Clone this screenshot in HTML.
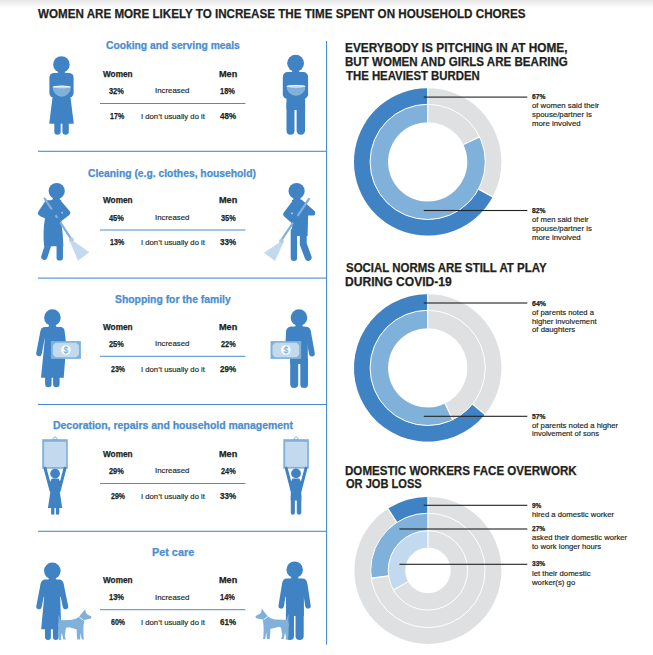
<!DOCTYPE html>
<html><head><meta charset="utf-8"><style>
html,body{margin:0;padding:0;background:#fff;}
body{width:653px;height:655px;position:relative;overflow:hidden;font-family:"Liberation Sans",sans-serif;}
.t{position:absolute;white-space:nowrap;transform-origin:0 0;}
.top{position:absolute;left:0;top:0;width:653px;height:8px;background:linear-gradient(#e6e6e6,#ffffff);}
svg{position:absolute;left:0;top:0;}
</style></head><body>
<div class="top"></div>
<svg width="653" height="655" viewBox="0 0 653 655">
<rect x="326" y="41" width="1.1" height="603.6" fill="#4a8ecf"/>
<rect x="38" y="150.75" width="288.5" height="1.1" fill="#4a8ecf"/>
<rect x="38" y="277.55" width="288.5" height="1.1" fill="#4a8ecf"/>
<rect x="38" y="403.95" width="288.5" height="1.1" fill="#4a8ecf"/>
<rect x="38" y="530.75" width="288.5" height="1.1" fill="#4a8ecf"/>
<rect x="100" y="103.00" width="145.5" height="1" fill="#4a8ecf"/>
<rect x="100" y="229.50" width="145.5" height="1" fill="#4a8ecf"/>
<rect x="100" y="355.80" width="145.5" height="1" fill="#4a8ecf"/>
<rect x="100" y="483.00" width="145.5" height="1" fill="#4a8ecf"/>
<rect x="100" y="609.20" width="145.5" height="1" fill="#4a8ecf"/>
<path d="M427.7 88.2 A73.7 73.7 0 1 0 427.7 235.60000000000002 A73.7 73.7 0 1 0 427.7 88.2 Z M427.7 104.30000000000001 A57.6 57.6 0 1 1 427.7 219.5 A57.6 57.6 0 1 1 427.7 104.30000000000001 Z" fill="#dfe0e2" fill-rule="evenodd"/>
<path d="M427.7 104.30000000000001 A57.6 57.6 0 1 0 427.7 219.5 A57.6 57.6 0 1 0 427.7 104.30000000000001 Z M427.7 122.2 A39.7 39.7 0 1 1 427.7 201.60000000000002 A39.7 39.7 0 1 1 427.7 122.2 Z" fill="#dfe0e2" fill-rule="evenodd"/>
<path d="M427.70 88.20 A73.7 73.7 0 1 0 492.28 197.41 L478.18 189.65 A57.6 57.6 0 1 1 427.70 104.30 Z" fill="#3f83c4"/>
<path d="M427.70 104.30 A57.6 57.6 0 1 0 479.82 137.38 L463.62 145.00 A39.7 39.7 0 1 1 427.70 122.20 Z" fill="#80b1da"/>
<line x1="478.52" y1="189.01" x2="493.17" y2="196.83" stroke="#fff" stroke-width="1.1"/>
<line x1="463.41" y1="144.55" x2="479.96" y2="136.50" stroke="#fff" stroke-width="1.1"/>
<circle cx="427.7" cy="161.9" r="57.6" fill="none" stroke="#fff" stroke-width="1"/>
<rect x="427.09999999999997" y="87.9" width="1.2" height="34.5" fill="#fff"/>
<path d="M427.7 294.2 A73.7 73.7 0 1 0 427.7 441.59999999999997 A73.7 73.7 0 1 0 427.7 294.2 Z M427.7 310.29999999999995 A57.6 57.6 0 1 1 427.7 425.5 A57.6 57.6 0 1 1 427.7 310.29999999999995 Z" fill="#dfe0e2" fill-rule="evenodd"/>
<path d="M427.7 310.29999999999995 A57.6 57.6 0 1 0 427.7 425.5 A57.6 57.6 0 1 0 427.7 310.29999999999995 Z M427.7 328.2 A39.7 39.7 0 1 1 427.7 407.59999999999997 A39.7 39.7 0 1 1 427.7 328.2 Z" fill="#dfe0e2" fill-rule="evenodd"/>
<path d="M427.70 294.20 A73.7 73.7 0 1 0 484.49 414.88 L472.08 404.62 A57.6 57.6 0 1 1 427.70 310.30 Z" fill="#3f83c4"/>
<path d="M427.70 310.30 A57.6 57.6 0 1 0 452.22 420.02 L444.60 403.82 A39.7 39.7 0 1 1 427.70 328.20 Z" fill="#80b1da"/>
<line x1="472.54" y1="404.06" x2="485.46" y2="414.47" stroke="#fff" stroke-width="1.1"/>
<line x1="445.05" y1="403.61" x2="453.10" y2="420.16" stroke="#fff" stroke-width="1.1"/>
<circle cx="427.7" cy="367.9" r="57.6" fill="none" stroke="#fff" stroke-width="1"/>
<rect x="427.09999999999997" y="293.9" width="1.2" height="34.5" fill="#fff"/>
<path d="M427.9 496.9 A73.5 73.5 0 1 0 427.9 643.9 A73.5 73.5 0 1 0 427.9 496.9 Z M427.9 547.6 A22.8 22.8 0 1 1 427.9 593.1999999999999 A22.8 22.8 0 1 1 427.9 547.6 Z" fill="#dfe0e2" fill-rule="evenodd"/>
<path d="M427.90 496.90 A73.5 73.5 0 0 0 388.52 508.34 L397.25 522.10 A57.2 57.2 0 0 1 427.90 513.20 Z" fill="#3f83c4"/>
<path d="M427.90 513.20 A57.2 57.2 0 0 0 371.15 577.57 L388.51 575.38 A39.7 39.7 0 0 1 427.90 530.70 Z" fill="#80b1da"/>
<path d="M427.90 530.70 A39.7 39.7 0 0 0 393.11 589.53 L407.92 581.38 A22.8 22.8 0 0 1 427.90 547.60 Z" fill="#c3d9ee"/>
<line x1="396.65" y1="522.49" x2="387.47" y2="508.42" stroke="#fff" stroke-width="1.1"/>
<line x1="388.58" y1="575.87" x2="370.75" y2="578.35" stroke="#fff" stroke-width="1.1"/>
<line x1="408.06" y1="581.63" x2="392.92" y2="590.21" stroke="#fff" stroke-width="1.1"/>
<circle cx="427.9" cy="570.4" r="57.2" fill="none" stroke="#fff" stroke-width="1"/>
<circle cx="427.9" cy="570.4" r="39.7" fill="none" stroke="#fff" stroke-width="1"/>
<rect x="427.29999999999995" y="496.4" width="1.2" height="51" fill="#fff"/>
<rect x="423.8" y="96.55" width="103.50" height="1.1" fill="#222222"/>
<rect x="423.8" y="209.95" width="103.50" height="1.1" fill="#222222"/>
<rect x="423.8" y="302.45" width="103.50" height="1.1" fill="#222222"/>
<rect x="423.8" y="415.75" width="103.50" height="1.1" fill="#222222"/>
<rect x="423.8" y="504.75" width="103.50" height="1.1" fill="#222222"/>
<rect x="399.4" y="528.45" width="127.90" height="1.1" fill="#222222"/>
<rect x="399.4" y="563.75" width="127.90" height="1.1" fill="#222222"/>
<circle cx="61.4" cy="64.4" r="8.25" fill="#3f83c4"/>
<path d="M56.65,74.00 L56.65,73.00 Q58.25,73.00 58.25,71.40 L58.25,69 L64.55,69 L64.55,71.40 Q64.55,73.00 66.15,73.00 L66.15,74.00 Z" fill="#3f83c4"/>
<rect x="49.4" y="72.9" width="24.20" height="24.70" rx="4.6" fill="#3f83c4"/>
<polygon points="52.8,95 70.2,95 73.8,123.8 49.2,123.8" fill="#3f83c4"/>
<rect x="54.3" y="116" width="6.40" height="18.80" rx="3.2" fill="#3f83c4"/>
<rect x="62.4" y="116" width="6.40" height="18.80" rx="3.2" fill="#3f83c4"/>
<path d="M52.6 86.80000000000001 A9.150000000000002 9.999999999999991 0 0 0 70.9 86.80000000000001 Z" fill="#80b1da"/>
<ellipse cx="61.75" cy="86.80000000000001" rx="9.150000000000002" ry="1.3" fill="#fff"/>
<ellipse cx="61.75" cy="87.4" rx="7.5500000000000025" ry="0.9" fill="#c3d9ee"/>
<circle cx="295.6" cy="63.2" r="8.4" fill="#3f83c4"/>
<path d="M290.85,73.00 L290.85,72.00 Q292.45,72.00 292.45,70.40 L292.45,68 L298.75,68 L298.75,70.40 Q298.75,72.00 300.35,72.00 L300.35,73.00 Z" fill="#3f83c4"/>
<rect x="282.8" y="72.0" width="25.30" height="27.00" rx="4.8" fill="#3f83c4"/>
<rect x="286.5" y="94" width="18.60" height="16.00" rx="1" fill="#3f83c4"/>
<rect x="286.5" y="100" width="8.00" height="34.80" rx="4.0" fill="#3f83c4"/>
<rect x="296.6" y="100" width="8.50" height="34.80" rx="4.2" fill="#3f83c4"/>
<path d="M286.5 86.2 A9.5 9.700000000000008 0 0 0 305.5 86.2 Z" fill="#80b1da"/>
<ellipse cx="296.0" cy="86.2" rx="9.5" ry="1.3" fill="#fff"/>
<ellipse cx="296.0" cy="86.8" rx="7.9" ry="0.9" fill="#c3d9ee"/>
<circle cx="56.7" cy="191.0" r="8.1" fill="#3f83c4"/>
<path d="M51.20,201.00 L51.20,200.00 Q52.80,200.00 52.80,198.40 L52.80,196 L59.60,196 L59.60,198.40 Q59.60,200.00 61.20,200.00 L61.20,201.00 Z" fill="#3f83c4"/>
<path d="M46.5,200.3 L59.2,200.3 Q60.3,200.3 61.2,201.2 L69.8,211.2 Q71.2,213.3 69.3,215 L61.2,221.3 Q63.1,234 63.4,246.3 L44.1,246.3 Q42.6,232 45.0,218.3 L40.2,216.2 Q36.8,214.3 38.4,211.6 L45.4,201.0 Q45.9,200.3 46.5,200.3 Z" fill="#3f83c4"/>
<polyline points="48.3,244.5 44.3,256.9" fill="none" stroke="#3f83c4" stroke-width="6.2" stroke-linecap="round" stroke-linejoin="round"/>
<polyline points="59.75,245.0 59.75,257.4" fill="none" stroke="#3f83c4" stroke-width="6.4" stroke-linecap="round" stroke-linejoin="round"/>
<polyline points="44.7,198.6 70.8,238.3" fill="none" stroke="#80b1da" stroke-width="2.2" stroke-linecap="round" stroke-linejoin="round"/>
<polyline points="51.9,209.4 55.2,215.4" fill="none" stroke="#3f83c4" stroke-width="3.6" stroke-linecap="butt" stroke-linejoin="round"/>
<polyline points="56.8,218.2 59.9,222.4" fill="none" stroke="#3f83c4" stroke-width="3.0" stroke-linecap="butt" stroke-linejoin="round"/>
<polygon points="61.3,212.4 62.4,211.6 62.6,214.2" fill="#fff"/>
<rect x="69.2" y="237.6" width="4.40" height="4.20" rx="1.4" fill="#aecbe6"/>
<polygon points="69.6,241.0 73.4,241.0 89.3,252.2 78.1,260.8" fill="#c3d9ee"/>
<circle cx="296.6" cy="191.0" r="8.1" fill="#3f83c4"/>
<path d="M292.00,201.00 L292.00,200.00 Q293.60,200.00 293.60,198.40 L293.60,196 L300.40,196 L300.40,198.40 Q300.40,200.00 302.00,200.00 L302.00,201.00 Z" fill="#3f83c4"/>
<path d="M294.0,200.0 L301.4,200.0 Q302.4,200.0 303.2,200.9 L314.5,211.0 Q316.3,213.3 314.2,215.4 L308.1,215.4 L307.6,236 L291.8,236 L292.2,223.6 L284.2,216.4 Q282.2,214.3 284.0,212.2 L292.6,200.8 Q293.2,200.0 294.0,200.0 Z" fill="#3f83c4"/>
<rect x="290.7" y="228" width="6.40" height="33.00" rx="3.2" fill="#3f83c4"/>
<polyline points="303.25,230 303.25,244 308.2,257.4" fill="none" stroke="#3f83c4" stroke-width="6.9" stroke-linecap="round" stroke-linejoin="round"/>
<polyline points="309.0,198.9 281.4,240.2" fill="none" stroke="#80b1da" stroke-width="2.2" stroke-linecap="round" stroke-linejoin="round"/>
<polyline points="297.6,216.0 293.2,222.8" fill="none" stroke="#3f83c4" stroke-width="3.6" stroke-linecap="butt" stroke-linejoin="round"/>
<polygon points="291.0,213.4 292.4,212.0 292.4,214.6" fill="#fff"/>
<rect x="279.2" y="239.2" width="4.40" height="4.20" rx="1.4" fill="#aecbe6"/>
<polygon points="279.4,242.6 283.4,242.6 275.0,261.0 264.0,252.8" fill="#c3d9ee"/>
<circle cx="52.4" cy="317.6" r="8.3" fill="#3f83c4"/>
<path d="M47.40,328.00 L47.40,327.00 Q49.00,327.00 49.00,325.40 L49.00,322 L55.80,322 L55.80,325.40 Q55.80,327.00 57.40,327.00 L57.40,328.00 Z" fill="#3f83c4"/>
<path d="M45.0,326.9 L60.3,326.9 Q64.0,326.9 64.5,330.5 L66.3,345 L63.7,377.7 L41.0,377.7 L44.6,341.5 L44.3,330 Z" fill="#3f83c4"/>
<rect x="40.5" y="326.9" width="15.50" height="11.10" rx="4.6" fill="#3f83c4"/>
<polyline points="42.9,333 39.0,353.4" fill="none" stroke="#3f83c4" stroke-width="5.6" stroke-linecap="round" stroke-linejoin="round"/>
<rect x="45.1" y="372" width="6.50" height="15.30" rx="3.2" fill="#3f83c4"/>
<rect x="53.1" y="372" width="6.50" height="15.30" rx="3.2" fill="#3f83c4"/>
<rect x="50.9" y="341.1" width="30.00" height="17.80" fill="#80b1da"/>
<polygon points="55.5,342.70000000000005 76.30000000000001,342.70000000000005 78.9,345.30000000000007 78.9,354.69999999999993 76.30000000000001,357.29999999999995 55.5,357.29999999999995 52.9,354.69999999999993 52.9,345.30000000000007" fill="#c3d9ee"/>
<circle cx="65.90" cy="350.00" r="4.8" fill="#fff"/>
<text x="65.90" y="353.00" font-family="Liberation Sans" font-size="8.6" text-anchor="middle" fill="#80b1da" stroke="#80b1da" stroke-width="0.25">$</text>
<circle cx="299.0" cy="317.6" r="8.3" fill="#3f83c4"/>
<path d="M294.00,328.00 L294.00,327.00 Q295.60,327.00 295.60,325.40 L295.60,322 L302.40,322 L302.40,325.40 Q302.40,327.00 304.00,327.00 L304.00,328.00 Z" fill="#3f83c4"/>
<path d="M290.2,326.7 L304.8,326.7 L307.8,330 L307.8,364 L290.2,364 Z" fill="#3f83c4"/>
<rect x="286.2" y="326.7" width="24.40" height="11.30" rx="4.6" fill="#3f83c4"/>
<polyline points="289.0,332 288.2,345.0" fill="none" stroke="#3f83c4" stroke-width="5.8" stroke-linecap="round" stroke-linejoin="round"/>
<polyline points="308.0,332 311.9,353.6" fill="none" stroke="#3f83c4" stroke-width="5.8" stroke-linecap="round" stroke-linejoin="round"/>
<rect x="290.2" y="356" width="8.00" height="32.00" rx="4.0" fill="#3f83c4"/>
<rect x="300.3" y="356" width="7.70" height="32.00" rx="3.85" fill="#3f83c4"/>
<rect x="270.5" y="341.1" width="30.70" height="17.80" fill="#80b1da"/>
<polygon points="275.1,342.70000000000005 296.59999999999997,342.70000000000005 299.2,345.30000000000007 299.2,354.69999999999993 296.59999999999997,357.29999999999995 275.1,357.29999999999995 272.5,354.69999999999993 272.5,345.30000000000007" fill="#c3d9ee"/>
<circle cx="285.85" cy="350.00" r="4.8" fill="#fff"/>
<text x="285.85" y="353.00" font-family="Liberation Sans" font-size="8.6" text-anchor="middle" fill="#80b1da" stroke="#80b1da" stroke-width="0.25">$</text>
<polygon points="52.40,439.5 55.00,436.50 57.60,439.5" fill="#fff" stroke="#80b1da" stroke-width="1"/>
<rect x="42.2" y="439.2" width="25.60" height="29.60" fill="#80b1da"/>
<rect x="44.10" y="441.80" width="22.00" height="25.30" fill="#c3d9ee"/>
<polyline points="45.0,468.2 51.0,490.5" fill="none" stroke="#3f83c4" stroke-width="3.0" stroke-linecap="round" stroke-linejoin="round"/>
<polyline points="65.0,468.2 59.2,490.5" fill="none" stroke="#3f83c4" stroke-width="3.0" stroke-linecap="round" stroke-linejoin="round"/>
<circle cx="55.1" cy="473.6" r="4.9" fill="#3f83c4"/>
<polygon points="51.8,478.6 58.6,478.6 61.2,484 59.9,492.5 62.2,508.0 47.9,508.0 50.3,492.5 49.0,484" fill="#3f83c4"/>
<rect x="51.1" y="504" width="3.30" height="10.80" rx="1.65" fill="#3f83c4"/>
<rect x="55.9" y="504" width="3.40" height="10.80" rx="1.65" fill="#3f83c4"/>
<polygon points="293.50,439.5 296.10,436.50 298.70,439.5" fill="#fff" stroke="#80b1da" stroke-width="1"/>
<rect x="283.3" y="439.2" width="25.60" height="29.40" fill="#80b1da"/>
<rect x="285.20" y="441.80" width="22.00" height="25.10" fill="#c3d9ee"/>
<polyline points="286.2,468.2 291.9,490.0" fill="none" stroke="#3f83c4" stroke-width="3.0" stroke-linecap="round" stroke-linejoin="round"/>
<polyline points="306.0,468.2 300.3,490.0" fill="none" stroke="#3f83c4" stroke-width="3.0" stroke-linecap="round" stroke-linejoin="round"/>
<circle cx="296.0" cy="473.4" r="4.9" fill="#3f83c4"/>
<polygon points="292.6,478.4 299.4,478.4 302.2,484 301.3,492 301.3,500.5 290.8,500.5 290.8,492 289.8,484" fill="#3f83c4"/>
<rect x="290.8" y="494" width="4.10" height="20.70" rx="2.05" fill="#3f83c4"/>
<rect x="296.8" y="494" width="4.50" height="20.70" rx="2.1" fill="#3f83c4"/>
<circle cx="52.3" cy="570.8" r="8.3" fill="#3f83c4"/>
<path d="M47.30,581.00 L47.30,580.00 Q48.90,580.00 48.90,578.40 L48.90,575 L55.70,575 L55.70,578.40 Q55.70,580.00 57.30,580.00 L57.30,581.00 Z" fill="#3f83c4"/>
<rect x="40.6" y="579.6" width="23.10" height="17.40" rx="4.6" fill="#3f83c4"/>
<polyline points="43.0,586 39.0,606.5" fill="none" stroke="#3f83c4" stroke-width="5.5" stroke-linecap="round" stroke-linejoin="round"/>
<polyline points="61.3,586 65.5,606.5" fill="none" stroke="#3f83c4" stroke-width="5.5" stroke-linecap="round" stroke-linejoin="round"/>
<polygon points="44.4,594 60.1,594 61.2,629.2 41.2,629.2" fill="#3f83c4"/>
<rect x="45.0" y="624" width="5.90" height="15.90" rx="2.95" fill="#3f83c4"/>
<rect x="52.9" y="624" width="5.70" height="15.90" rx="2.85" fill="#3f83c4"/>
<polygon points="58.3,614.7 59.3,616.5 60.1,619.4 60.8,620.1 64,620.2 72,619.8 76.4,618.6 79.0,616.8 81.6,613.6 85.1,609.2 86.0,613.0 87.0,614.2 90.9,616.2 91.5,617.1 91.0,618.5 88.6,619.1 86.2,619.4 84.5,620.0 83.8,622.9 83.4,627.5 83.4,632.0 83.7,638.6 84.4,639.5 82.0,639.5 81.4,637.5 80.8,632.5 80.1,638.8 80.6,639.5 77.2,639.5 76.8,635.0 76.7,629.5 73.5,628.6 70,627.6 67.6,627.2 65.9,628.1 65.3,632.5 64.7,636.3 65.9,639.4 63.2,639.4 62.4,635.2 61.8,632.8 60.9,637.6 61.4,639.9 58.9,639.9 58.4,634.0 58.4,629.0 58.0,625.2 58.6,621.0 58.4,617.0" fill="#80b1da"/>
<line x1="79.20" y1="617.00" x2="83.60" y2="620.30" stroke="#fff" stroke-width="0.9"/>
<circle cx="294.7" cy="569.7" r="8.25" fill="#3f83c4"/>
<path d="M289.70,580.00 L289.70,579.00 Q291.30,579.00 291.30,577.40 L291.30,574 L298.10,574 L298.10,577.40 Q298.10,579.00 299.70,579.00 L299.70,580.00 Z" fill="#3f83c4"/>
<rect x="282.3" y="578.4" width="24.80" height="18.60" rx="4.6" fill="#3f83c4"/>
<polyline points="284.6,585 281.25,605.9" fill="none" stroke="#3f83c4" stroke-width="5.5" stroke-linecap="round" stroke-linejoin="round"/>
<polyline points="304.8,585 307.95,605.9" fill="none" stroke="#3f83c4" stroke-width="5.5" stroke-linecap="round" stroke-linejoin="round"/>
<rect x="286.0" y="594" width="17.90" height="22.00" rx="0.5" fill="#3f83c4"/>
<rect x="285.9" y="606" width="8.10" height="33.90" rx="4.0" fill="#3f83c4"/>
<rect x="295.5" y="606" width="8.20" height="33.90" rx="4.0" fill="#3f83c4"/>
<polygon points="288.7,614.3000000000001 287.7,616.1 286.9,619.0 286.2,619.7 283.0,619.8000000000001 275.0,619.4 270.6,618.2 268.0,616.4 265.4,613.2 261.9,608.8000000000001 261.0,612.6 260.0,613.8000000000001 256.1,615.8000000000001 255.5,616.7 256.0,618.1 258.4,618.7 260.8,619.0 262.5,619.6 263.2,622.5 263.6,627.1 263.6,631.6 263.3,638.2 262.6,639.1 265.0,639.1 265.6,637.1 266.2,632.1 266.9,638.4 266.4,639.1 269.8,639.1 270.2,634.6 270.3,629.1 273.5,628.2 277.0,627.2 279.4,626.8000000000001 281.1,627.7 281.7,632.1 282.3,635.9 281.1,639.0 283.8,639.0 284.6,634.8000000000001 285.2,632.4 286.1,637.2 285.6,639.5 288.1,639.5 288.6,633.6 288.6,628.6 289.0,624.8000000000001 288.4,620.6 288.6,616.6" fill="#80b1da"/>
<line x1="267.80" y1="616.60" x2="263.40" y2="619.90" stroke="#fff" stroke-width="0.9"/>
</svg>
<div class="t" style="left:38.40px;top:8.29px;font-size:12.3px;line-height:12.3px;font-weight:700;color:#231f20;transform:scaleX(0.9450);-webkit-text-stroke:0.25px #231f20">WOMEN ARE MORE LIKELY TO INCREASE THE TIME SPENT ON HOUSEHOLD CHORES</div>
<div class="t" style="left:345.46px;top:41.94px;font-size:12.0px;line-height:12.0px;font-weight:700;color:#231f20;transform:scaleX(0.9844);-webkit-text-stroke:0.25px #231f20">EVERYBODY IS PITCHING IN AT HOME,</div>
<div class="t" style="left:345.48px;top:55.64px;font-size:12.0px;line-height:12.0px;font-weight:700;color:#231f20;transform:scaleX(0.9643);-webkit-text-stroke:0.25px #231f20">BUT WOMEN AND GIRLS ARE BEARING</div>
<div class="t" style="left:345.96px;top:69.54px;font-size:12.0px;line-height:12.0px;font-weight:700;color:#231f20;transform:scaleX(0.9479);-webkit-text-stroke:0.25px #231f20">THE HEAVIEST BURDEN</div>
<div class="t" style="left:345.52px;top:262.04px;font-size:12.0px;line-height:12.0px;font-weight:700;color:#231f20;transform:scaleX(0.9548);-webkit-text-stroke:0.25px #231f20">SOCIAL NORMS ARE STILL AT PLAY</div>
<div class="t" style="left:345.24px;top:275.54px;font-size:12.0px;line-height:12.0px;font-weight:700;color:#231f20;transform:scaleX(1.0072);-webkit-text-stroke:0.25px #231f20">DURING COVID-19</div>
<div class="t" style="left:345.38px;top:464.54px;font-size:12.0px;line-height:12.0px;font-weight:700;color:#231f20;transform:scaleX(0.9663);-webkit-text-stroke:0.25px #231f20">DOMESTIC WORKERS FACE OVERWORK</div>
<div class="t" style="left:345.64px;top:478.34px;font-size:12.0px;line-height:12.0px;font-weight:700;color:#231f20;transform:scaleX(0.9235);-webkit-text-stroke:0.25px #231f20">OR JOB LOSS</div>
<div class="t" style="left:106.19px;top:41.14px;font-size:10.0px;line-height:10.0px;font-weight:700;color:#4a8ecf;transform:scaleX(1.0290);-webkit-text-stroke:0.25px #4a8ecf">Cooking and serving meals</div>
<div class="t" style="left:88.48px;top:168.74px;font-size:10.0px;line-height:10.0px;font-weight:700;color:#4a8ecf;transform:scaleX(1.0318);-webkit-text-stroke:0.25px #4a8ecf">Cleaning (e.g. clothes, household)</div>
<div class="t" style="left:115.04px;top:294.54px;font-size:10.0px;line-height:10.0px;font-weight:700;color:#4a8ecf;transform:scaleX(1.0364);-webkit-text-stroke:0.25px #4a8ecf">Shopping for the family</div>
<div class="t" style="left:52.62px;top:421.04px;font-size:10.0px;line-height:10.0px;font-weight:700;color:#4a8ecf;transform:scaleX(1.0457);-webkit-text-stroke:0.25px #4a8ecf">Decoration, repairs and household management</div>
<div class="t" style="left:151.69px;top:548.23px;font-size:10.0px;line-height:10.0px;font-weight:700;color:#4a8ecf;transform:scaleX(1.0834);-webkit-text-stroke:0.25px #4a8ecf">Pet care</div>
<div class="t" style="left:103.00px;top:69.80px;font-size:8.5px;line-height:8.5px;font-weight:700;color:#231f20;transform:scaleX(0.9667);-webkit-text-stroke:0.25px #231f20">Women</div>
<div class="t" style="left:219.16px;top:69.90px;font-size:8.5px;line-height:8.5px;font-weight:700;color:#231f20;transform:scaleX(1.0750);-webkit-text-stroke:0.25px #231f20">Men</div>
<div class="t" style="left:109.49px;top:87.18px;font-size:9.0px;line-height:9.0px;font-weight:700;color:#231f20;transform:scaleX(0.8229);-webkit-text-stroke:0.25px #231f20">32%</div>
<div class="t" style="left:154.95px;top:87.30px;font-size:7.8px;line-height:7.8px;font-weight:400;color:#231f20;transform:scaleX(1.0061);-webkit-text-stroke:0.15px #231f20">Increased</div>
<div class="t" style="left:220.49px;top:87.18px;font-size:9.0px;line-height:9.0px;font-weight:700;color:#231f20;transform:scaleX(0.8290);-webkit-text-stroke:0.25px #231f20">18%</div>
<div class="t" style="left:110.41px;top:111.98px;font-size:9.0px;line-height:9.0px;font-weight:700;color:#231f20;transform:scaleX(0.7884);-webkit-text-stroke:0.25px #231f20">17%</div>
<div class="t" style="left:140.56px;top:112.80px;font-size:7.8px;line-height:7.8px;font-weight:400;color:#231f20;transform:scaleX(0.9898);-webkit-text-stroke:0.15px #231f20">I don’t usually do it</div>
<div class="t" style="left:220.18px;top:111.98px;font-size:9.0px;line-height:9.0px;font-weight:700;color:#231f20;transform:scaleX(0.8914);-webkit-text-stroke:0.25px #231f20">48%</div>
<div class="t" style="left:103.00px;top:196.30px;font-size:8.5px;line-height:8.5px;font-weight:700;color:#231f20;transform:scaleX(0.9667);-webkit-text-stroke:0.25px #231f20">Women</div>
<div class="t" style="left:219.16px;top:196.40px;font-size:8.5px;line-height:8.5px;font-weight:700;color:#231f20;transform:scaleX(1.0750);-webkit-text-stroke:0.25px #231f20">Men</div>
<div class="t" style="left:109.49px;top:213.68px;font-size:9.0px;line-height:9.0px;font-weight:700;color:#231f20;transform:scaleX(0.8229);-webkit-text-stroke:0.25px #231f20">45%</div>
<div class="t" style="left:154.95px;top:213.80px;font-size:7.8px;line-height:7.8px;font-weight:400;color:#231f20;transform:scaleX(1.0061);-webkit-text-stroke:0.15px #231f20">Increased</div>
<div class="t" style="left:220.70px;top:213.68px;font-size:9.0px;line-height:9.0px;font-weight:700;color:#231f20;transform:scaleX(0.8171);-webkit-text-stroke:0.25px #231f20">35%</div>
<div class="t" style="left:110.41px;top:238.48px;font-size:9.0px;line-height:9.0px;font-weight:700;color:#231f20;transform:scaleX(0.7884);-webkit-text-stroke:0.25px #231f20">13%</div>
<div class="t" style="left:140.56px;top:239.30px;font-size:7.8px;line-height:7.8px;font-weight:400;color:#231f20;transform:scaleX(0.9898);-webkit-text-stroke:0.15px #231f20">I don’t usually do it</div>
<div class="t" style="left:220.18px;top:238.48px;font-size:9.0px;line-height:9.0px;font-weight:700;color:#231f20;transform:scaleX(0.8914);-webkit-text-stroke:0.25px #231f20">33%</div>
<div class="t" style="left:103.00px;top:322.60px;font-size:8.5px;line-height:8.5px;font-weight:700;color:#231f20;transform:scaleX(0.9667);-webkit-text-stroke:0.25px #231f20">Women</div>
<div class="t" style="left:219.16px;top:322.70px;font-size:8.5px;line-height:8.5px;font-weight:700;color:#231f20;transform:scaleX(1.0750);-webkit-text-stroke:0.25px #231f20">Men</div>
<div class="t" style="left:109.49px;top:339.98px;font-size:9.0px;line-height:9.0px;font-weight:700;color:#231f20;transform:scaleX(0.8229);-webkit-text-stroke:0.25px #231f20">25%</div>
<div class="t" style="left:154.95px;top:340.10px;font-size:7.8px;line-height:7.8px;font-weight:400;color:#231f20;transform:scaleX(1.0061);-webkit-text-stroke:0.15px #231f20">Increased</div>
<div class="t" style="left:220.70px;top:339.98px;font-size:9.0px;line-height:9.0px;font-weight:700;color:#231f20;transform:scaleX(0.8171);-webkit-text-stroke:0.25px #231f20">22%</div>
<div class="t" style="left:110.61px;top:364.78px;font-size:9.0px;line-height:9.0px;font-weight:700;color:#231f20;transform:scaleX(0.7771);-webkit-text-stroke:0.25px #231f20">23%</div>
<div class="t" style="left:140.56px;top:365.60px;font-size:7.8px;line-height:7.8px;font-weight:400;color:#231f20;transform:scaleX(0.9898);-webkit-text-stroke:0.15px #231f20">I don’t usually do it</div>
<div class="t" style="left:220.18px;top:364.78px;font-size:9.0px;line-height:9.0px;font-weight:700;color:#231f20;transform:scaleX(0.8914);-webkit-text-stroke:0.25px #231f20">29%</div>
<div class="t" style="left:103.00px;top:449.80px;font-size:8.5px;line-height:8.5px;font-weight:700;color:#231f20;transform:scaleX(0.9667);-webkit-text-stroke:0.25px #231f20">Women</div>
<div class="t" style="left:219.16px;top:449.90px;font-size:8.5px;line-height:8.5px;font-weight:700;color:#231f20;transform:scaleX(1.0750);-webkit-text-stroke:0.25px #231f20">Men</div>
<div class="t" style="left:109.49px;top:467.18px;font-size:9.0px;line-height:9.0px;font-weight:700;color:#231f20;transform:scaleX(0.8229);-webkit-text-stroke:0.25px #231f20">29%</div>
<div class="t" style="left:154.95px;top:467.30px;font-size:7.8px;line-height:7.8px;font-weight:400;color:#231f20;transform:scaleX(1.0061);-webkit-text-stroke:0.15px #231f20">Increased</div>
<div class="t" style="left:220.70px;top:467.18px;font-size:9.0px;line-height:9.0px;font-weight:700;color:#231f20;transform:scaleX(0.8171);-webkit-text-stroke:0.25px #231f20">24%</div>
<div class="t" style="left:110.61px;top:491.98px;font-size:9.0px;line-height:9.0px;font-weight:700;color:#231f20;transform:scaleX(0.7771);-webkit-text-stroke:0.25px #231f20">29%</div>
<div class="t" style="left:140.56px;top:492.80px;font-size:7.8px;line-height:7.8px;font-weight:400;color:#231f20;transform:scaleX(0.9898);-webkit-text-stroke:0.15px #231f20">I don’t usually do it</div>
<div class="t" style="left:220.18px;top:491.98px;font-size:9.0px;line-height:9.0px;font-weight:700;color:#231f20;transform:scaleX(0.8914);-webkit-text-stroke:0.25px #231f20">33%</div>
<div class="t" style="left:103.00px;top:576.00px;font-size:8.5px;line-height:8.5px;font-weight:700;color:#231f20;transform:scaleX(0.9667);-webkit-text-stroke:0.25px #231f20">Women</div>
<div class="t" style="left:219.16px;top:576.10px;font-size:8.5px;line-height:8.5px;font-weight:700;color:#231f20;transform:scaleX(1.0750);-webkit-text-stroke:0.25px #231f20">Men</div>
<div class="t" style="left:109.28px;top:593.38px;font-size:9.0px;line-height:9.0px;font-weight:700;color:#231f20;transform:scaleX(0.8348);-webkit-text-stroke:0.25px #231f20">13%</div>
<div class="t" style="left:154.95px;top:593.50px;font-size:7.8px;line-height:7.8px;font-weight:400;color:#231f20;transform:scaleX(1.0061);-webkit-text-stroke:0.15px #231f20">Increased</div>
<div class="t" style="left:220.49px;top:593.38px;font-size:9.0px;line-height:9.0px;font-weight:700;color:#231f20;transform:scaleX(0.8290);-webkit-text-stroke:0.25px #231f20">14%</div>
<div class="t" style="left:110.61px;top:618.18px;font-size:9.0px;line-height:9.0px;font-weight:700;color:#231f20;transform:scaleX(0.7771);-webkit-text-stroke:0.25px #231f20">60%</div>
<div class="t" style="left:140.56px;top:619.00px;font-size:7.8px;line-height:7.8px;font-weight:400;color:#231f20;transform:scaleX(0.9898);-webkit-text-stroke:0.15px #231f20">I don’t usually do it</div>
<div class="t" style="left:220.18px;top:618.18px;font-size:9.0px;line-height:9.0px;font-weight:700;color:#231f20;transform:scaleX(0.8914);-webkit-text-stroke:0.25px #231f20">61%</div>
<div class="t" style="left:531.95px;top:93.84px;font-size:6.8px;line-height:6.8px;font-weight:700;color:#231f20;transform:scaleX(0.9811);-webkit-text-stroke:0.25px #231f20">67%</div>
<div class="t" style="left:531.92px;top:102.27px;font-size:7.0px;line-height:7.0px;font-weight:400;color:#231f20;transform:scaleX(1.1071);-webkit-text-stroke:0.15px #231f20">of women said their</div>
<div class="t" style="left:531.92px;top:110.97px;font-size:7.0px;line-height:7.0px;font-weight:400;color:#231f20;transform:scaleX(1.1136);-webkit-text-stroke:0.15px #231f20">spouse/partner is</div>
<div class="t" style="left:531.64px;top:119.87px;font-size:7.0px;line-height:7.0px;font-weight:400;color:#231f20;transform:scaleX(1.1181);-webkit-text-stroke:0.15px #231f20">more involved</div>
<div class="t" style="left:531.95px;top:207.84px;font-size:6.8px;line-height:6.8px;font-weight:700;color:#231f20;transform:scaleX(0.9811);-webkit-text-stroke:0.25px #231f20">82%</div>
<div class="t" style="left:531.93px;top:216.27px;font-size:7.0px;line-height:7.0px;font-weight:400;color:#231f20;transform:scaleX(1.0951);-webkit-text-stroke:0.15px #231f20">of men said their</div>
<div class="t" style="left:531.92px;top:224.97px;font-size:7.0px;line-height:7.0px;font-weight:400;color:#231f20;transform:scaleX(1.1136);-webkit-text-stroke:0.15px #231f20">spouse/partner is</div>
<div class="t" style="left:531.64px;top:233.87px;font-size:7.0px;line-height:7.0px;font-weight:400;color:#231f20;transform:scaleX(1.1181);-webkit-text-stroke:0.15px #231f20">more involved</div>
<div class="t" style="left:531.94px;top:301.14px;font-size:6.8px;line-height:6.8px;font-weight:700;color:#231f20;transform:scaleX(1.0264);-webkit-text-stroke:0.25px #231f20">64%</div>
<div class="t" style="left:531.93px;top:309.47px;font-size:7.0px;line-height:7.0px;font-weight:400;color:#231f20;transform:scaleX(1.0969);-webkit-text-stroke:0.15px #231f20">of parents noted a</div>
<div class="t" style="left:531.65px;top:317.77px;font-size:7.0px;line-height:7.0px;font-weight:400;color:#231f20;transform:scaleX(1.0987);-webkit-text-stroke:0.15px #231f20">higher involvement</div>
<div class="t" style="left:531.92px;top:326.17px;font-size:7.0px;line-height:7.0px;font-weight:400;color:#231f20;transform:scaleX(1.1091);-webkit-text-stroke:0.15px #231f20">of daughters</div>
<div class="t" style="left:531.95px;top:413.94px;font-size:6.8px;line-height:6.8px;font-weight:700;color:#231f20;transform:scaleX(0.9887);-webkit-text-stroke:0.25px #231f20">57%</div>
<div class="t" style="left:531.92px;top:421.87px;font-size:7.0px;line-height:7.0px;font-weight:400;color:#231f20;transform:scaleX(1.1071);-webkit-text-stroke:0.15px #231f20">of parents noted a higher</div>
<div class="t" style="left:531.66px;top:430.37px;font-size:7.0px;line-height:7.0px;font-weight:400;color:#231f20;transform:scaleX(1.0824);-webkit-text-stroke:0.15px #231f20">involvement of sons</div>
<div class="t" style="left:531.96px;top:502.74px;font-size:6.8px;line-height:6.8px;font-weight:700;color:#231f20;transform:scaleX(0.9474);-webkit-text-stroke:0.25px #231f20">9%</div>
<div class="t" style="left:531.65px;top:511.27px;font-size:7.0px;line-height:7.0px;font-weight:400;color:#231f20;transform:scaleX(1.1037);-webkit-text-stroke:0.15px #231f20">hired a domestic worker</div>
<div class="t" style="left:531.96px;top:525.74px;font-size:6.8px;line-height:6.8px;font-weight:700;color:#231f20;transform:scaleX(0.9660);-webkit-text-stroke:0.25px #231f20">27%</div>
<div class="t" style="left:531.93px;top:534.27px;font-size:7.0px;line-height:7.0px;font-weight:400;color:#231f20;transform:scaleX(1.0916);-webkit-text-stroke:0.15px #231f20">asked their domestic worker</div>
<div class="t" style="left:532.20px;top:543.07px;font-size:7.0px;line-height:7.0px;font-weight:400;color:#231f20;transform:scaleX(1.0909);-webkit-text-stroke:0.15px #231f20">to work longer hours</div>
<div class="t" style="left:531.96px;top:561.34px;font-size:6.8px;line-height:6.8px;font-weight:700;color:#231f20;transform:scaleX(0.9660);-webkit-text-stroke:0.25px #231f20">33%</div>
<div class="t" style="left:531.65px;top:569.87px;font-size:7.0px;line-height:7.0px;font-weight:400;color:#231f20;transform:scaleX(1.1062);-webkit-text-stroke:0.15px #231f20">let their domestic</div>
<div class="t" style="left:532.20px;top:578.67px;font-size:7.0px;line-height:7.0px;font-weight:400;color:#231f20;transform:scaleX(1.1117);-webkit-text-stroke:0.15px #231f20">worker(s) go</div>
</body></html>
